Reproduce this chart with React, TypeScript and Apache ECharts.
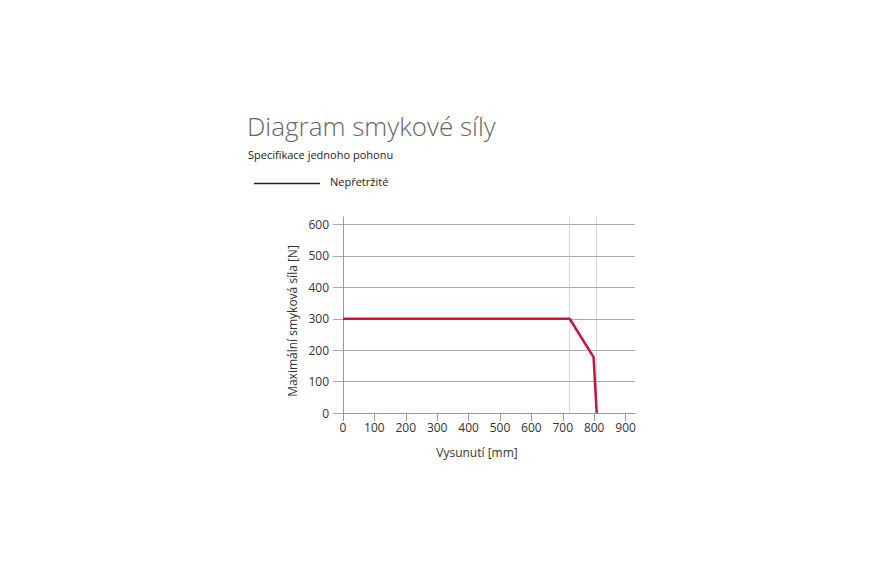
import React, { useEffect, useRef } from "react";
import * as echarts from "echarts";

const xTicks = [0, 100, 200, 300, 400, 500, 600, 700, 800, 900];
const yTicks = [0, 100, 200, 300, 400, 500, 600];
const seriesName = "Nepřetržité";
const curveX = [0, 722, 798, 808];
const curveY = [300, 300, 178, 0];
const markX = [722, 808];

export default function App() {
  const ref = useRef<HTMLDivElement>(null);
  useEffect(() => {
    if (!ref.current) return;
    const chart = echarts.init(ref.current, undefined, { renderer: "svg" });
    const font = "'Open Sans', 'Noto Sans', sans-serif";
    chart.setOption({
      animation: false,
      textStyle: { fontFamily: font },
      graphic: [
        {
          type: "text",
          left: 247,
          top: 113,
          style: { text: "Diagram smykové síly", fontSize: 26, fontWeight: 300, fill: "#666", fontFamily: font },
        },
        {
          type: "text",
          left: 248,
          top: 149,
          style: { text: "Specifikace jednoho pohonu", fontSize: 11, fill: "#222", fontFamily: font },
        },
        {
          type: "line",
          shape: { x1: 254, y1: 183.5, x2: 320, y2: 183.5 },
          style: { stroke: "#222", lineWidth: 1.5 },
        },
        {
          type: "text",
          left: 330,
          top: 176,
          style: { text: seriesName, fontSize: 11, fill: "#222", fontFamily: font },
        },
        {
          type: "text",
          x: 292,
          y: 321,
          rotation: Math.PI / 2,
          style: {
            text: "Maximální smyková síla [N]",
            fontSize: 12,
            fill: "#333",
            fontFamily: font,
            align: "center",
            verticalAlign: "middle",
          },
        },
        {
          type: "text",
          x: 477,
          y: 452,
          style: {
            text: "Vysunutí [mm]",
            fontSize: 12,
            fill: "#333",
            fontFamily: font,
            align: "center",
            verticalAlign: "middle",
          },
        },
      ],
      grid: { left: 343, right: 250, top: 217, bottom: 162, containLabel: false },
      xAxis: {
        type: "value",
        min: 0,
        max: 930,
        axisLine: { show: true, lineStyle: { color: "#999", width: 1 } },
        axisTick: { show: true, length: 8, lineStyle: { color: "#999" }, customValues: xTicks },
        axisLabel: { fontSize: 12, color: "#333", margin: 8, customValues: xTicks },
        splitLine: { show: false },
      },
      yAxis: {
        type: "value",
        min: 0,
        max: 624,
        axisLine: { show: true, lineStyle: { color: "#999", width: 1 } },
        axisTick: { show: true, length: 10, lineStyle: { color: "#aaa" }, customValues: yTicks },
        axisLabel: { fontSize: 12, color: "#333", margin: 14, customValues: yTicks },
        splitLine: { show: true, lineStyle: { color: "#aaa", width: 1 } },
      },
      series: [
        {
          name: seriesName,
          type: "line",
          data: curveX.map((x, i) => [x, curveY[i]]),
          showSymbol: false,
          symbol: "none",
          lineStyle: { color: "#d0103a", width: 2.5 },
          z: 5,
          markLine: {
            silent: true,
            symbol: "none",
            label: { show: false },
            lineStyle: { color: "#bbb", width: 0.6, type: "solid" },
            data: markX.map((x) => ({ xAxis: x })),
          },
        },
      ],
    });
    return () => chart.dispose();
  }, []);
  return (
    <div
      ref={ref}
      style={{ position: "fixed", left: 0, top: 0, width: 885, height: 575, background: "#fff" }}
    />
  );
}
